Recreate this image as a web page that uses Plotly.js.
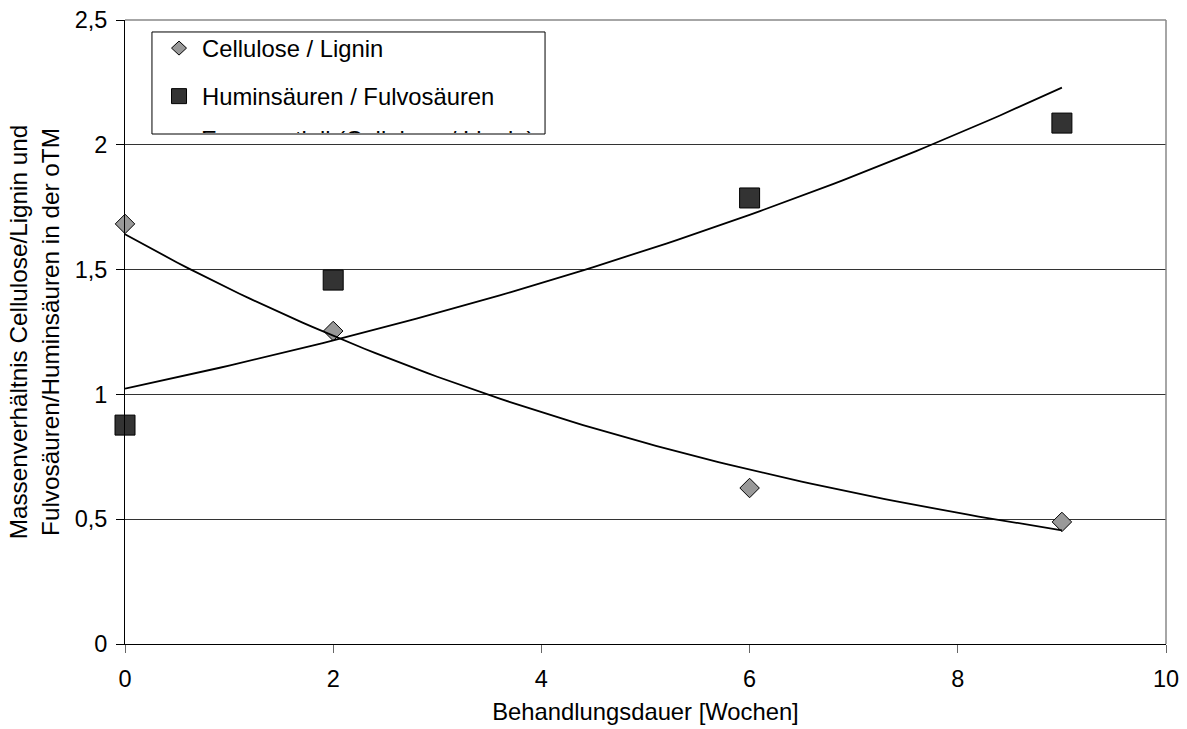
<!DOCTYPE html>
<html>
<head>
<meta charset="utf-8">
<script src="https://cdn.plot.ly/plotly-3.0.1.min.js"></script>
<style>html,body{margin:0;padding:0;background:#fff;}#chart{width:1187px;height:729px;}</style>
</head>
<body>
<div id="chart"></div>
<script>
// ---- data ----
const weeks = [0, 2, 6, 9];
const celluloseLignin = [1.683, 1.254, 0.625, 0.489];
const huminFulvo = [0.877, 1.458, 1.787, 2.087];
const seriesNames = ['Cellulose / Lignin', 'Huminsäuren / Fulvosäuren'];
const trendName = 'Exponentiell (Cellulose / Lignin)';
const xTicks = [0, 2, 4, 6, 8, 10];
const yTicks = [0, 0.5, 1, 1.5, 2, 2.5];
const yTickLabels = ['0', '0,5', '1', '1,5', '2', '2,5'];

// exponential least-squares trend (as Excel's "Exponentiell" trendline)
function expFit(xs, ys) {
  const n = xs.length;
  const ly = ys.map(Math.log);
  const mx = xs.reduce((a, b) => a + b, 0) / n;
  const my = ly.reduce((a, b) => a + b, 0) / n;
  let sxy = 0, sxx = 0;
  for (let i = 0; i < n; i++) { sxy += (xs[i] - mx) * (ly[i] - my); sxx += (xs[i] - mx) ** 2; }
  const b = sxy / sxx, a = my - b * mx;
  const xmin = Math.min(...xs), xmax = Math.max(...xs);
  const tx = [], ty = [];
  const steps = 90;
  for (let k = 0; k <= steps; k++) {
    const x = xmin + (xmax - xmin) * k / steps;
    tx.push(x); ty.push(Math.exp(a + b * x));
  }
  return {x: tx, y: ty};
}
const trendC = expFit(weeks, celluloseLignin);
const trendH = expFit(weeks, huminFulvo);

const FONT = 'Liberation Sans, Arial, Helvetica, sans-serif';

const traces = [
  {x: weeks, y: celluloseLignin, name: seriesNames[0], type: 'scatter', mode: 'markers', cliponaxis: false,
   marker: {symbol: 'diamond', size: 15, color: '#999999', line: {color: '#000', width: 1}}},
  {x: weeks, y: huminFulvo, name: seriesNames[1], type: 'scatter', mode: 'markers', cliponaxis: false,
   marker: {symbol: 'square', size: 20, color: '#333333', line: {color: '#000', width: 1}}},
  {x: trendC.x, y: trendC.y, name: trendName, type: 'scatter', mode: 'lines', cliponaxis: false,
   line: {color: '#000', width: 1.8}},
  {x: trendH.x, y: trendH.y, name: 'Exponentiell (Huminsäuren / Fulvosäuren)', type: 'scatter', mode: 'lines', cliponaxis: false,
   line: {color: '#000', width: 1.8}}
];

// legend geometry (paper coordinates of plot area)
const lgL = 0.0259, lgR = 0.4035, lgB = 0.8173, lgT = 0.9808;
const symX = 0.0519, txtX = 0.072;
const row1 = 0.955, row2 = 0.878;

const layout = {
  width: 1187, height: 729,
  margin: {l: 125, r: 21, t: 20, b: 85},
  paper_bgcolor: '#fff', plot_bgcolor: '#fff',
  showlegend: false,
  font: {family: FONT, size: 23, color: '#000'},
  xaxis: {
    range: [0, 10], tickvals: xTicks, ticktext: xTicks.map(String),
    showgrid: false, zeroline: false,
    showline: true, linecolor: '#000', linewidth: 1,
    ticks: 'outside', ticklen: 8, tickcolor: '#666', tickwidth: 1,
    ticklabelstandoff: 6,
    tickfont: {family: FONT, size: 23.5, color: '#000'},
    title: {text: 'Behandlungsdauer [Wochen]', font: {family: FONT, size: 23.8, color: '#000'}, standoff: 12},
    automargin: false
  },
  yaxis: {
    range: [0, 2.5], tickvals: yTicks, ticktext: yTickLabels,
    showgrid: true, gridcolor: '#333', gridwidth: 1, zeroline: false,
    showline: true, linecolor: '#000', linewidth: 1,
    ticks: 'outside', ticklen: 8, tickcolor: '#000', tickwidth: 1,
    ticklabelstandoff: 4,
    tickfont: {family: FONT, size: 23.5, color: '#000'},
    title: {text: 'Massenverhältnis Cellulose/Lignin und<br>Fulvosäuren/Huminsäuren in der oTM', font: {family: FONT, size: 24.3, color: '#000'}, standoff: 8},
    automargin: false
  },
  shapes: [
    // plot-area border (top & right, grey)
    {type: 'line', xref: 'paper', yref: 'paper', x0: 0, x1: 1, y0: 1, y1: 1, line: {color: '#888', width: 1.5}, layer: 'above'},
    {type: 'line', xref: 'paper', yref: 'paper', x0: 1, x1: 1, y0: 0, y1: 1, line: {color: '#888', width: 1.5}, layer: 'above'},
    // legend box
    {type: 'rect', xref: 'paper', yref: 'paper', x0: lgL, x1: lgR, y0: lgB, y1: lgT, line: {color: '#000', width: 1}, fillcolor: '#fff', layer: 'above'},
    // legend symbols
    {type: 'path', xref: 'paper', yref: 'paper', xsizemode: 'pixel', ysizemode: 'pixel', xanchor: symX, yanchor: row1,
     path: 'M -7.5 0 L 0 7 L 7.5 0 L 0 -7 Z', fillcolor: '#999999', line: {color: '#000', width: 1}, layer: 'above'},
    {type: 'rect', xref: 'paper', yref: 'paper', xsizemode: 'pixel', ysizemode: 'pixel', xanchor: symX, yanchor: row2,
     x0: -7.5, x1: 7.5, y0: -7.5, y1: 7.5, fillcolor: '#333333', line: {color: '#000', width: 1}, layer: 'above'}
  ],
  annotations: [
    {xref: 'paper', yref: 'paper', x: txtX, y: row1, xanchor: 'left', yanchor: 'middle', showarrow: false,
     text: seriesNames[0], font: {family: FONT, size: 23.8, color: '#000'}},
    {xref: 'paper', yref: 'paper', x: txtX, y: row2, xanchor: 'left', yanchor: 'middle', showarrow: false,
     text: seriesNames[1], font: {family: FONT, size: 23.8, color: '#000'}},
    // third legend entry, cut off by the legend box
    {xref: 'paper', yref: 'paper', x: txtX, y: lgB, xanchor: 'left', yanchor: 'bottom', showarrow: false,
     height: 7, valign: 'top', borderpad: 0,
     text: trendName, font: {family: FONT, size: 23.8, color: '#000'}}
  ]
};

Plotly.newPlot('chart', traces, layout, {displayModeBar: false, staticPlot: true});
</script>
</body>
</html>
